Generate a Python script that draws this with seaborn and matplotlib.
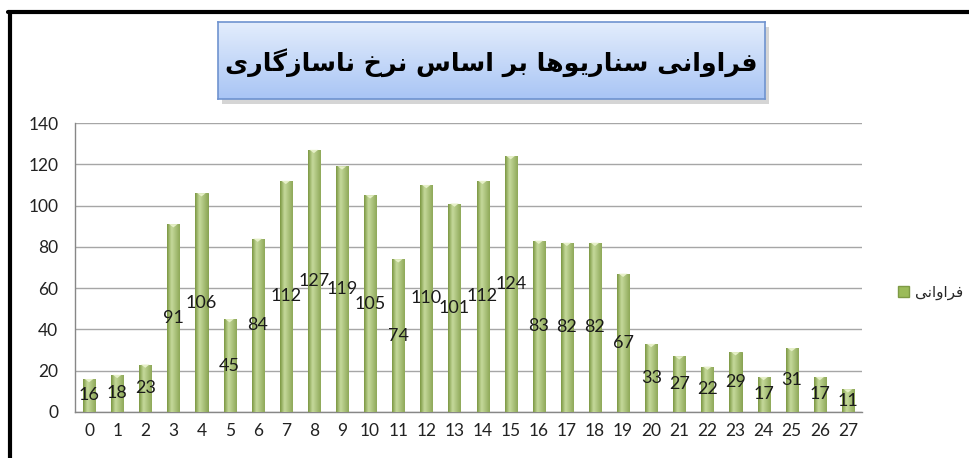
import numpy as np
import pandas as pd
import matplotlib
matplotlib.use("Agg")
import matplotlib.pyplot as plt
from matplotlib.patches import Patch, Rectangle
from matplotlib.lines import Line2D
import seaborn as sns

# data
categorias = list(range(28))
frequencias = [16, 18, 23, 91, 106, 45, 84, 112, 127, 119, 105, 74, 110, 101,
               112, 124, 83, 82, 82, 67, 33, 27, 22, 29, 17, 31, 17, 11]
titulo = "فراوانی سناریوها بر اساس نرخ ناسازگاری"
legenda = "فراوانی"
y_ticks = [0, 20, 40, 60, 80, 100, 120, 140]

# minimal arabic shaping (matplotlib draws left to right, no joining)
FORMAS = {
    "ف": (0xFED1, 0xFED2, 0xFED3, 0xFED4),
    "ن": (0xFEE5, 0xFEE6, 0xFEE7, 0xFEE8),
    "ی": (0xFBFC, 0xFBFD, 0xFBFE, 0xFBFF),
    "س": (0xFEB1, 0xFEB2, 0xFEB3, 0xFEB4),
    "ه": (0xFEE9, 0xFEEA, 0xFEEB, 0xFEEC),
    "ب": (0xFE8F, 0xFE90, 0xFE91, 0xFE92),
    "خ": (0xFEA5, 0xFEA6, 0xFEA7, 0xFEA8),
    "گ": (0xFB92, 0xFB93, 0xFB94, 0xFB95),
    "ر": (0xFEAD, 0xFEAE, None, None),
    "ا": (0xFE8D, 0xFE8E, None, None),
    "و": (0xFEED, 0xFEEE, None, None),
    "ز": (0xFEAF, 0xFEB0, None, None),
}


def dual(c):
    return c in FORMAS and FORMAS[c][2] is not None


def moldar(texto):
    saida = []
    for i, c in enumerate(texto):
        if c not in FORMAS:
            saida.append(c)
            continue
        ant = texto[i - 1] if i > 0 else " "
        prox = texto[i + 1] if i + 1 < len(texto) else " "
        liga_ant = dual(ant)
        liga_prox = dual(c) and prox in FORMAS
        iso, fin, ini, med = FORMAS[c]
        if liga_ant and liga_prox:
            f = med
        elif liga_ant:
            f = fin
        elif liga_prox:
            f = ini
        else:
            f = iso
        saida.append(chr(f))
    return "".join(saida)[::-1]


df = pd.DataFrame({"cat": categorias, "freq": frequencias})

sns.set_style("white")
plt.rcParams["font.family"] = ["Lato", "DejaVu Sans"]

fig = plt.figure(figsize=(9.7, 4.58), dpi=100)
ax = fig.add_axes([75 / 970, 46 / 458, (862 - 75) / 970, (412 - 123) / 458])

sns.barplot(data=df, x="cat", y="freq", color="#9BBB59", width=0.43,
            edgecolor="#7E9A45", linewidth=0.6, saturation=1, ax=ax, zorder=3)

# cylinder-like gradient on each bar
grad = np.linspace(0, 1, 64)
perfil = np.interp(grad, [0, 0.35, 1], [0.05, 1.0, 0.3])
cmap = matplotlib.colors.LinearSegmentedColormap.from_list(
    "verde", ["#7A9640", "#C6DA9C"])
for p in ax.patches:
    x0, y0 = p.get_x(), p.get_y()
    w, h = p.get_width(), p.get_height()
    im = ax.imshow(perfil[np.newaxis, :], cmap=cmap, aspect="auto",
                   extent=[x0, x0 + w, y0, y0 + h], zorder=3.5,
                   interpolation="bicubic")
    im.set_clip_path(p)
    top = matplotlib.patches.Polygon(
        [[x0 + w * 0.15, y0 + h], [x0 + w * 0.85, y0 + h],
         [x0 + w * 0.5, y0 + h - 1.6]], closed=True,
        facecolor="#E6F0C8", edgecolor="none", zorder=3.6)
    ax.add_patch(top)

ax.bar_label(ax.containers[0], label_type="center", fontsize=13,
             color="#1a1a1a", zorder=5)

ax.set_xlim(-0.5, 27.5)
ax.set_ylim(0, 140)
ax.set_yticks(y_ticks)
ax.set_xlabel("")
ax.set_ylabel("")
ax.yaxis.grid(True, color="#A6A6A6", linewidth=1)
ax.set_axisbelow(True)
ax.set_xticks(categorias)
ax.set_xticks(np.arange(-0.5, 28, 1), minor=True)
ax.tick_params(axis="x", which="major", length=0, labelsize=12.5, pad=8,
               colors="#222222")
ax.tick_params(axis="x", which="minor", length=5, color="#878787", width=1)
ax.tick_params(axis="y", length=5, color="#878787", width=1, labelsize=12.5,
               labelcolor="#222222", pad=7)
for s in ["top", "right"]:
    ax.spines[s].set_visible(False)
for s in ["left", "bottom"]:
    ax.spines[s].set_color("#878787")
    ax.spines[s].set_linewidth(1)

# legend
ax.legend(handles=[Patch(facecolor="#9BBB59", edgecolor="#7E9A45", label=moldar(legenda))],
          loc="center left", bbox_to_anchor=(1.028, 0.415), frameon=False,
          handlelength=0.75, handleheight=0.75, handletextpad=0.4,
          prop={"family": "DejaVu Sans", "size": 11})

# title box with gradient
fig.patches.append(Rectangle((222 / 970, (458 - 104) / 458), (765 - 218) / 970,
                             77 / 458, transform=fig.transFigure,
                             facecolor="#888888", alpha=0.35, edgecolor="none",
                             zorder=0))
box = fig.add_axes([218 / 970, (458 - 99) / 458, (765 - 218) / 970, 77 / 458])
box.set_zorder(5)
vert = np.linspace(0, 1, 64)[:, np.newaxis]
cmap_box = matplotlib.colors.LinearSegmentedColormap.from_list(
    "azul", ["#E3EDFC", "#A9C5F5"])
box.imshow(vert, cmap=cmap_box, aspect="auto", extent=[0, 1, 0, 1])
box.set_xlim(0, 1)
box.set_ylim(0, 1)
box.set_xticks([])
box.set_yticks([])
for s in box.spines.values():
    s.set_color("#6F93CF")
    s.set_linewidth(1.2)
box.text(0.5, 0.47, moldar(titulo), ha="center", va="center",
         fontsize=18.2, fontweight="bold", family="DejaVu Sans",
         color="black")

# outer frame
fig.add_artist(Line2D([10 / 970, 10 / 970], [0, 1 - 12 / 458],
                      transform=fig.transFigure, color="black", linewidth=3))
fig.add_artist(Line2D([8.5 / 970, 1], [1 - 12 / 458, 1 - 12 / 458],
                      transform=fig.transFigure, color="black", linewidth=3))

fig.savefig("out.png", dpi=100)
plt.close(fig)
